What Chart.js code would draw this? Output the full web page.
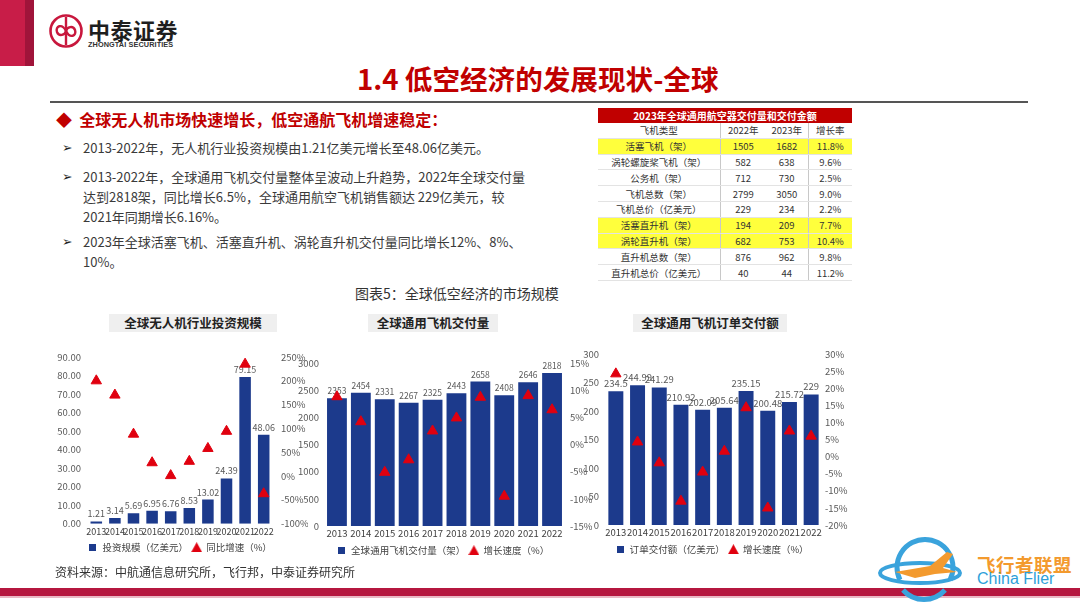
<!DOCTYPE html>
<html>
<head>
<meta charset="utf-8">
<script src="https://cdn.jsdelivr.net/npm/chart.js@4.4.1/dist/chart.umd.min.js"></script>
<style>
  html, body { margin: 0; padding: 0; }
  body { width: 1080px; height: 608px; position: relative; overflow: hidden; background: #fff;
         font-family: "Noto Sans CJK SC", "Liberation Sans", sans-serif; color: #3a3a3a; }
  .abs { position: absolute; }
  .box { position: absolute; }
  .ctitle { position: absolute; background: #efefef; font-weight: bold; font-size: 12.5px; color: #222;
            text-align: center; height: 18px; line-height: 18px; }
  #tbl { position: absolute; left: 598px; top: 108px; width: 254px; border-collapse: collapse;
         font-size: 9.5px; color: #333; table-layout: fixed; border-bottom: 1.5px solid #888; }
  #tbl td { height: 14.8px; padding: 0; text-align: center; border-bottom: 1px solid #e3e3e3; white-space: nowrap; }
  #tbl td.c1 { border-right: 1px solid #c8c8c8; }
  #tbl td.c3 { border-right: 1px solid #c8c8c8; }
  #tbl tr.hl td { background: #ffff3c; }
  #tbl tr.head td { background: #c00000; color: #fff; font-weight: bold; font-size: 10px; height: 14px; border: none; }
  .bl { position: absolute; left: 62px; font-size: 13px; line-height: 20px; white-space: nowrap; color: #3a3a3a; }
  .bl span.ar { position: absolute; left: 0; font-family: "DejaVu Sans"; font-size: 12.5px; color: #222; }
  .bl div.t { margin-left: 21px; }
</style>
</head>
<body>
<!-- header -->
<div class="abs" style="left:0;top:0;width:25px;height:66px;background:#c81d48"></div>
<div class="abs" style="left:25px;top:0;width:9px;height:66px;background:#a0143a"></div>
<svg class="abs" style="left:48px;top:13px" width="36" height="36" viewBox="0 0 36 36">
  <circle cx="18" cy="18" r="15.5" fill="none" stroke="#c8173d" stroke-width="2.6"/>
  <path d="M18 4 V32" stroke="#c8173d" stroke-width="2.4"/>
  <path d="M18 18 C14 10, 7 13, 9 19 C11 24, 17 22, 18 18 C19 14, 25 12, 27 17 C29 23, 22 26, 18 18" fill="none" stroke="#c8173d" stroke-width="2.4"/>
</svg>
<div class="abs" style="left:88px;top:13px;font-size:22px;font-weight:bold;color:#1e1e1e;letter-spacing:0.5px">中泰证券</div>
<div class="abs" style="left:88px;top:40px;font-size:7.3px;font-weight:bold;color:#333;font-family:'Liberation Sans';letter-spacing:0.1px">ZHONGTAI SECURITIES</div>
<div class="abs" style="left:357px;top:58px;font-size:27.6px;font-weight:bold;color:#c00000;white-space:nowrap">1.4 低空经济的发展现状-全球</div>
<div class="abs" style="left:50px;top:101px;width:978px;height:2px;background:#555"></div>

<!-- bullets -->
<div class="abs" style="left:56px;top:107px;font-size:16px;font-weight:bold;color:#c00000;white-space:nowrap">◆&nbsp;&nbsp;全球无人机市场快速增长，低空通航飞机增速稳定：</div>
<div class="bl" style="top:138px"><span class="ar">➢</span><div class="t">2013-2022年，无人机行业投资规模由1.21亿美元增长至48.06亿美元。</div></div>
<div class="bl" style="top:167px"><span class="ar">➢</span><div class="t">2013-2022年，全球通用飞机交付量整体呈波动上升趋势，2022年全球交付量<br>达到2818架，同比增长6.5%，全球通用航空飞机销售额达 229亿美元，较<br>2021年同期增长6.16%。</div></div>
<div class="bl" style="top:232px"><span class="ar">➢</span><div class="t">2023年全球活塞飞机、活塞直升机、涡轮直升机交付量同比增长12%、8%、<br>10%。</div></div>

<table id="tbl"></table>

<div class="abs" style="left:355px;top:283px;font-size:14px;color:#333">图表5：全球低空经济的市场规模</div>

<div class="ctitle" style="left:109px;top:314px;width:168px">全球无人机行业投资规模</div>
<div class="ctitle" style="left:368px;top:314px;width:130px">全球通用飞机交付量</div>
<div class="ctitle" style="left:633px;top:314px;width:154px">全球通用飞机订单交付额</div>

<div class="box" style="left:52px;top:340px;width:256px;height:222px"><canvas id="c1"></canvas></div>
<div class="box" style="left:294px;top:340px;width:298px;height:225px"><canvas id="c2"></canvas></div>
<div class="box" style="left:576px;top:340px;width:272px;height:224px"><canvas id="c3"></canvas></div>

<!-- footer -->
<div class="abs" style="left:55px;top:563px;font-size:12px;color:#333">资料来源：中航通信息研究所，飞行邦，中泰证券研究所</div>
<div class="abs" style="left:0;top:588px;width:1080px;height:8px;background:#b5173f"></div>
<div class="abs" style="left:0;top:596px;width:1080px;height:2px;background:#e9b8c4"></div>
<svg class="abs" style="left:875px;top:530px" width="100" height="78" viewBox="0 0 100 78">
  <path d="M25 50 A28 28 0 1 1 75 50" fill="none" stroke="#3aa3dc" stroke-width="5"/>
  <ellipse cx="45" cy="43" rx="40" ry="10" fill="none" stroke="#3aa3dc" stroke-width="4"/>
  <path d="M20 42 L55 36 L72 22 L78 24 L68 38 L82 42 L60 44 L40 48 Z" fill="#f39a2e"/>
  <path d="M28 60 A28 28 0 0 0 70 60" fill="none" stroke="#3aa3dc" stroke-width="5"/>
</svg>
<div class="abs" style="left:977px;top:551px;font-size:18.5px;font-weight:bold;color:#f39a2e;letter-spacing:0.5px">飞行者联盟</div>
<div class="abs" style="left:977px;top:570px;font-size:16px;color:#2d9fd9;font-family:'Liberation Sans'">China Flier</div>

<script>
// ---- data ----
const years = ['2013', '2014', '2015', '2016', '2017', '2018', '2019', '2020', '2021', '2022'];
const droneInvest = [1.21, 3.14, 5.69, 6.95, 6.76, 8.53, 13.02, 24.39, 79.15, 48.06];
const droneGrowth = [200, 170, 88, 28, 1, 31, 58, 94, 235, -37];
const planeDeliveries = [2353, 2454, 2331, 2267, 2325, 2443, 2658, 2408, 2646, 2818];
const planeGrowth = [8.8, 4.2, -5.1, -2.8, 2.5, 4.9, 8.7, -9.5, 9.0, 6.4];
const orderValue = [234.5, 244.99, 241.29, 210.92, 202.09, 205.64, 235.15, 200.48, 215.72, 229];
const orderGrowth = [24.2, 4.3, -1.8, -13, -4.5, 1.6, 14.3, -15, 7.5, 6.0];

// table 2023
const tblTitle = '2023年全球通用航空器交付量和交付金额';
const tblHead = ['飞机类型', '2022年', '2023年', '增长率'];
const tblRows = [
  ['活塞飞机（架）', '1505', '1682', '11.8%', true],
  ['涡轮螺旋桨飞机（架）', '582', '638', '9.6%', false],
  ['公务机（架）', '712', '730', '2.5%', false],
  ['飞机总数（架）', '2799', '3050', '9.0%', false],
  ['飞机总价（亿美元）', '229', '234', '2.2%', false],
  ['活塞直升机（架）', '194', '209', '7.7%', true],
  ['涡轮直升机（架）', '682', '753', '10.4%', true],
  ['直升机总数（架）', '876', '962', '9.8%', false],
  ['直升机总价（亿美元）', '40', '44', '11.2%', false]
];

// build table
const tbl = document.getElementById('tbl');
let html = '<colgroup><col style="width:122px"><col style="width:46px"><col style="width:42px"><col style="width:44px"></colgroup>';
html += '<tr class="head"><td colspan="4">' + tblTitle + '</td></tr>';
html += '<tr><td class="c1">' + tblHead[0] + '</td><td>' + tblHead[1] + '</td><td class="c3">' + tblHead[2] + '</td><td>' + tblHead[3] + '</td></tr>';
tblRows.forEach(r => {
  html += '<tr' + (r[4] ? ' class="hl"' : '') + '><td class="c1">' + r[0] + '</td><td>' + r[1] + '</td><td class="c3">' + r[2] + '</td><td>' + r[3] + '</td></tr>';
});
tbl.innerHTML = html;

// ---- charts ----
Chart.defaults.font.family = '"Noto Sans CJK SC", "Liberation Sans", sans-serif';
Chart.defaults.color = '#595959';

const BAR = '#1c3a8c';
const TRI = '#e0000f';

// little legend markers: small square, bigger triangle
const sq = document.createElement('canvas');
sq.width = 7; sq.height = 7;
sq.getContext('2d').fillStyle = BAR;
sq.getContext('2d').fillRect(0, 0, 7, 7);
const tri = document.createElement('canvas');
tri.width = 11; tri.height = 10;
const tctx = tri.getContext('2d');
tctx.fillStyle = TRI;
tctx.beginPath(); tctx.moveTo(5.5, 0); tctx.lineTo(11, 10); tctx.lineTo(0, 10); tctx.closePath(); tctx.fill();

// value labels on top of bars, drawn before the triangles
const barLabels = {
  id: 'barLabels',
  afterDatasetDraw(chart, args, opts) {
    if (args.index !== 0) return;
    const ctx = chart.ctx;
    const vals = chart.data.datasets[0].data;
    ctx.save();
    ctx.font = opts.size + 'px ' + Chart.defaults.font.family;
    ctx.fillStyle = '#595959';
    ctx.textAlign = 'center';
    ctx.textBaseline = 'bottom';
    args.meta.data.forEach((bar, i) => {
      ctx.fillText(String(vals[i]), bar.x, bar.y - 3);
    });
    ctx.restore();
  }
};

function makeChart(id, bars, growth, barName, lineName, o) {
  new Chart(document.getElementById(id), {
    type: 'bar',
    data: {
      labels: years,
      datasets: [
        {
          label: barName,
          data: bars,
          backgroundColor: BAR,
          yAxisID: 'y',
          order: 1,
          categoryPercentage: 1,
          barPercentage: o.barPct
        },
        {
          type: 'line',
          label: lineName,
          data: growth,
          yAxisID: 'y1',
          showLine: false,
          pointStyle: 'triangle',
          pointRadius: 6,
          pointBackgroundColor: TRI,
          pointBorderColor: TRI,
          backgroundColor: TRI,
          borderColor: TRI,
          order: 0
        }
      ]
    },
    options: {
      responsive: true,
      maintainAspectRatio: false,
      animation: false,
      layout: { padding: { top: o.padTop } },
      plugins: {
        tooltip: { enabled: false },
        barLabels: { size: o.labelSize },
        legend: {
          position: 'bottom',
          labels: {
            usePointStyle: true,
            boxWidth: 10,
            boxHeight: 10,
            padding: 4,
            color: '#404040',
            font: { size: 9.5 },
            generateLabels(chart) {
              const items = Chart.defaults.plugins.legend.labels.generateLabels(chart);
              items.forEach(it => {
                it.pointStyle = it.datasetIndex === 0 ? sq : tri;
                it.lineWidth = 0;
              });
              return items.sort((a, b) => a.datasetIndex - b.datasetIndex);
            }
          }
        }
      },
      scales: {
        x: {
          grid: { display: false, drawTicks: false },
          border: { display: false },
          ticks: { autoSkip: false, maxRotation: 0, color: '#404040', font: { size: o.xSize }, padding: 2 }
        },
        y: {
          position: 'left',
          min: o.yMin, max: o.yMax,
          grid: { display: false, drawTicks: false },
          border: { display: false },
          ticks: { stepSize: o.yStep, font: { size: 9.5 }, padding: 6, callback: o.yFmt },
          afterFit(s) { s.width = o.leftW; }
        },
        y1: {
          position: 'right',
          min: o.rMin, max: o.rMax,
          grid: { display: false, drawTicks: false },
          border: { display: false },
          ticks: { stepSize: o.rStep, font: { size: 9.5 }, padding: o.rPad, callback: v => v + '%' },
          afterFit(s) { s.width = o.rightW; }
        }
      }
    },
    plugins: [barLabels]
  });
}

makeChart('c1', droneInvest, droneGrowth, '投资规模（亿美元）', '同比增速（%）', {
  barPct: 0.62, labelSize: 9, xSize: 9,
  yMin: 0, yMax: 90, yStep: 10, yFmt: v => v.toFixed(2),
  rMin: -100, rMax: 250, rStep: 50, rPad: 8,
  leftW: 35, rightW: 35, padTop: 17
});

makeChart('c2', planeDeliveries, planeGrowth, '全球通用飞机交付量（架）', '增长速度（%）', {
  barPct: 0.83, labelSize: 8.5, xSize: 9.5,
  yMin: 0, yMax: 3000, yStep: 500, yFmt: v => v,
  rMin: -15, rMax: 15, rStep: 5, rPad: 6,
  leftW: 31, rightW: 28, padTop: 23
});

makeChart('c3', orderValue, orderGrowth, '订单交付额（亿美元）', '增长速度（%）', {
  barPct: 0.69, labelSize: 9.5, xSize: 9.5,
  yMin: 0, yMax: 300, yStep: 50, yFmt: v => v,
  rMin: -20, rMax: 30, rStep: 5, rPad: 3,
  leftW: 29, rightW: 26, padTop: 14
});
</script>
</body>
</html>
